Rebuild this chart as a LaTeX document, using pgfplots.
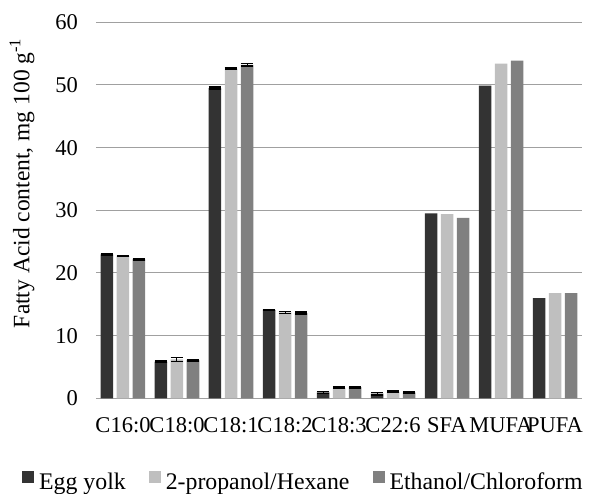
\documentclass[border=0pt]{standalone}
\usepackage{fontspec}
\setmainfont{Liberation Serif}
\usepackage{pgfplots}
\usepackage{pgfplotstable}
\pgfplotsset{compat=1.18}
\definecolor{cegg}{HTML}{333333}
\definecolor{cprop}{HTML}{BFBFBF}
\definecolor{ceth}{HTML}{808080}
\definecolor{gridc}{HTML}{A0A0A0}

\pgfplotstableread{
x egg eggerr prop properr eth etherr
0 22.95 0.12 22.7 0.1 22.2 0.1
1 5.85 0.12 6.2 0.3 6.1 0.12
2 49.5 0.18 52.6 0.1 53.2 0.2
3 14.1 0.1 13.7 0.15 13.6 0.15
4 0.93 0.15 1.68 0.1 1.78 0.12
5 0.74 0.18 1.04 0.1 0.93 0.12
}\dataA
\pgfplotstableread{
x egg prop eth
6 29.5 29.4 28.8
7 49.9 53.4 53.9
8 16.0 16.8 16.8
}\dataB

\begin{document}
\begin{tikzpicture}
\begin{axis}[
  at={(0,0)}, anchor=south west,
  width=486bp, height=376bp, scale only axis,
  xmin=-0.5, xmax=8.5, ymin=0, ymax=60,
  ytick={0,10,...,60},
  xtick={0,...,8},
  xticklabels={C16:0,C18:0,C18:1,C18:2,C18:3,C22:6,SFA,MUFA,PUFA},
  ymajorgrids, grid style={color=gridc, line width=1bp},
  axis line style={draw=none},
  major tick length=0pt,
  /pgf/number format/assume math mode=true,
  yticklabel style={font=\fontsize{22.5bp}{27bp}\selectfont, anchor=east, inner sep=0pt, xshift=-18bp},
  xticklabel style={font=\fontsize{22.5bp}{27bp}\selectfont, anchor=base, inner sep=0pt, yshift=-34bp},
  ylabel={Fatty Acid content, mg 100 g\textsuperscript{-1}},
  ylabel style={font=\fontsize{23.5bp}{28bp}\selectfont, at={(axis description cs:0,0.572)}, anchor=center, yshift=74bp, inner sep=0pt},
  legend columns=3,
  legend style={draw=none, fill=none, inner sep=0pt, at={(rel axis cs:0,0)}, anchor=south west, xshift=-74bp, yshift=-93bp,
    font=\fontsize{23.8bp}{28bp}\selectfont, nodes={inner sep=0pt},
    column sep=5bp, /tikz/every even column/.append style={column sep=23bp}},
  legend image code/.code={\fill[#1] (0bp,-1bp) rectangle (12bp,11bp);},
  error bars/error bar style={black, line width=1bp},
  error bars/error mark options={black, rotate=90, mark size=6.25bp, line width=1.6bp},
]
\addplot[ybar, bar width=12.5bp, bar shift=0bp, fill=cegg, draw=none,
  error bars/.cd, y dir=both, y explicit] table[x expr=\thisrow{x}-0.2963, y=egg, y error=eggerr] {\dataA};
\addlegendentry{Egg yolk}
\addplot[ybar, bar width=12.5bp, bar shift=0bp, fill=cprop, draw=none,
  error bars/.cd, y dir=both, y explicit] table[x=x, y=prop, y error=properr] {\dataA};
\addlegendentry{2-propanol/Hexane}
\addplot[ybar, bar width=12.5bp, bar shift=0bp, fill=ceth, draw=none,
  error bars/.cd, y dir=both, y explicit] table[x expr=\thisrow{x}+0.2963, y=eth, y error=etherr] {\dataA};
\addlegendentry{Ethanol/Chloroform}
\addplot[ybar, bar width=12.5bp, bar shift=0bp, fill=cegg, draw=none, forget plot] table[x expr=\thisrow{x}-0.2963, y=egg] {\dataB};
\addplot[ybar, bar width=12.5bp, bar shift=0bp, fill=cprop, draw=none, forget plot] table[x=x, y=prop] {\dataB};
\addplot[ybar, bar width=12.5bp, bar shift=0bp, fill=ceth, draw=none, forget plot] table[x expr=\thisrow{x}+0.2963, y=eth] {\dataB};
\end{axis}
\path[use as bounding box] (-96bp,-95.7bp) rectangle (494bp,398.3bp);
\end{tikzpicture}
\end{document}
